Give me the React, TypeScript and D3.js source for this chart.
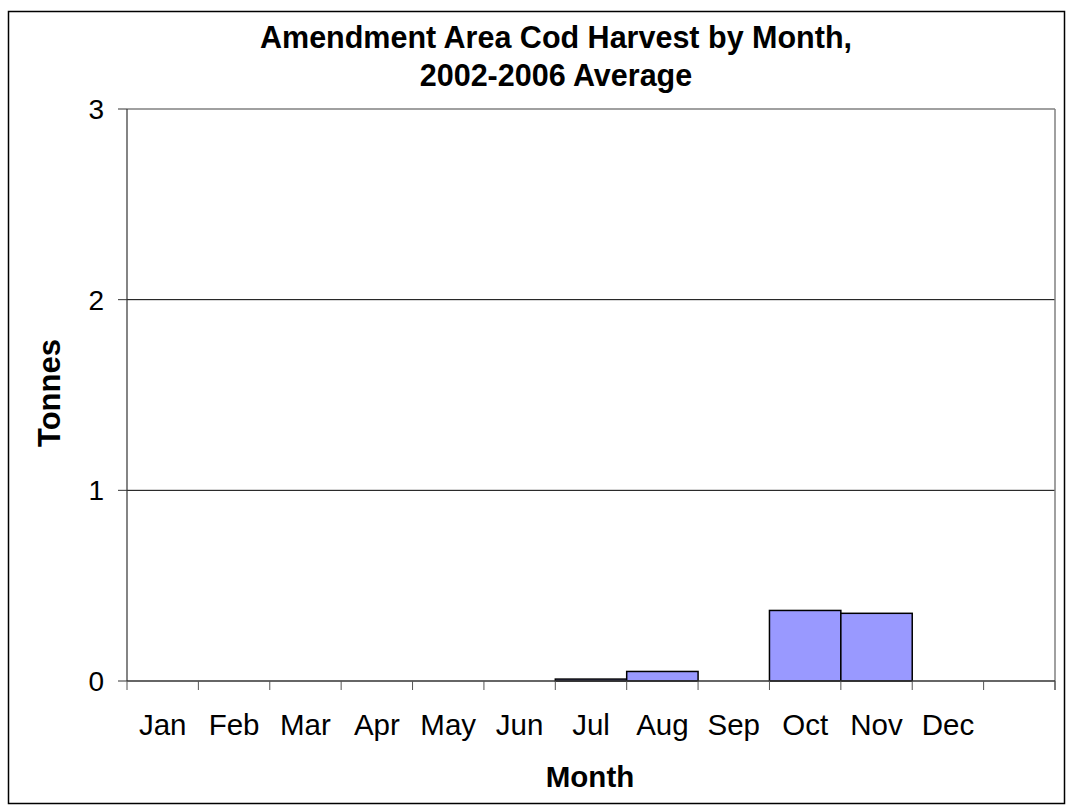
import React from "react";
import * as d3 from "d3";

// Monthly average cod harvest (tonnes), 2002-2006
const months = ["Jan", "Feb", "Mar", "Apr", "May", "Jun", "Jul", "Aug", "Sep", "Oct", "Nov", "Dec", ""];
const tonnes = [0, 0, 0, 0, 0, 0, 0.01, 0.05, 0, 0.37, 0.355, 0, 0];
const yTicks = [0, 1, 2, 3];
const titleLines = ["Amendment Area Cod Harvest by Month,", "2002-2006 Average"];

const W = 1073;
const H = 811;
const plot = { left: 127, right: 1055, top: 109, bottom: 681 };
const FONT = "Arial, 'Liberation Sans', Helvetica, sans-serif";

export default function App() {
  const x = d3
    .scaleBand<string>()
    .domain(months.map((m, i) => `${i}`))
    .range([plot.left, plot.right])
    .padding(0);
  const y = d3.scaleLinear().domain([0, 3]).range([plot.bottom, plot.top]);

  const bandEdges = months.map((_, i) => x(`${i}`) as number).concat([plot.right]);

  return (
    <svg
      width={W}
      height={H}
      style={{ position: "absolute", left: 0, top: 0, display: "block", background: "#fff" }}
      fontFamily={FONT}
    >
      <rect x={0} y={0} width={W} height={H} fill="#fff" />
      {/* chart frame */}
      <rect x={8.5} y={11.5} width={1056} height={792} fill="none" stroke="#000" strokeWidth={1.5} />

      {/* title */}
      {titleLines.map((t, i) => (
        <text
          key={i}
          x={556}
          y={48 + i * 38}
          textAnchor="middle"
          fontSize={30.5}
          fontWeight="bold"
          fill="#000"
        >
          {t}
        </text>
      ))}

      {/* gridlines */}
      {yTicks.slice(1, 3).map((v) => (
        <line key={v} x1={plot.left} x2={plot.right} y1={y(v)} y2={y(v)} stroke="#000" strokeWidth={1} />
      ))}
      {/* plot border top/right */}
      <line x1={plot.left} x2={plot.right} y1={y(3)} y2={y(3)} stroke="#808080" strokeWidth={1.5} />
      <line x1={plot.right} x2={plot.right} y1={plot.top} y2={plot.bottom + 9} stroke="#808080" strokeWidth={1.5} />

      {/* bars */}
      {tonnes.map((v, i) =>
        v > 0 ? (
          <rect
            key={i}
            x={x(`${i}`)}
            y={y(v)}
            width={x.bandwidth()}
            height={Math.max(plot.bottom - y(v), 0.5)}
            fill="#9999FF"
            stroke="#000"
            strokeWidth={1.5}
          />
        ) : null
      )}

      {/* y axis */}
      <line x1={plot.left} x2={plot.left} y1={plot.top} y2={plot.bottom} stroke="#333" strokeWidth={1.2} />
      {yTicks.map((v) => (
        <g key={v}>
          <line x1={plot.left - 9} x2={plot.left} y1={y(v)} y2={y(v)} stroke="#333" strokeWidth={1} />
          <text x={104} y={y(v)} dy="0.36em" textAnchor="end" fontSize={28} fill="#000">
            {v}
          </text>
        </g>
      ))}

      {/* x axis */}
      <line x1={plot.left} x2={plot.right} y1={plot.bottom} y2={plot.bottom} stroke="#333" strokeWidth={1.5} />
      {bandEdges.map((e, i) => (
        <line key={i} x1={e} x2={e} y1={plot.bottom} y2={plot.bottom + 9} stroke="#555" strokeWidth={1} />
      ))}
      {months.map((m, i) => (
        <text
          key={i}
          x={(x(`${i}`) as number) + x.bandwidth() / 2}
          y={735}
          textAnchor="middle"
          fontSize={29.5}
          fill="#000"
        >
          {m}
        </text>
      ))}

      {/* axis titles */}
      <text x={590} y={787} textAnchor="middle" fontSize={29.5} fontWeight="bold" fill="#000">
        Month
      </text>
      <text
        transform={`translate(60,393) rotate(-90)`}
        textAnchor="middle"
        fontSize={31}
        fontWeight="bold"
        fill="#000"
      >
        Tonnes
      </text>
    </svg>
  );
}
